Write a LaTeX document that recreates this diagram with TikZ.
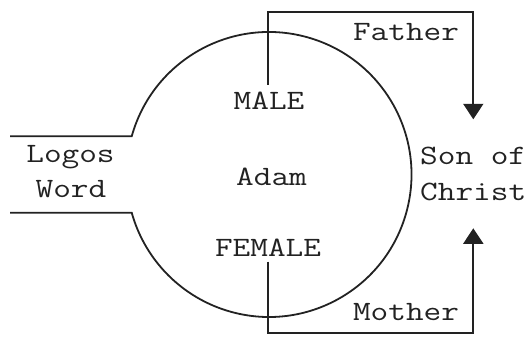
\documentclass[tikz,border=0pt]{standalone}
\usepackage{graphicx}
\usetikzlibrary{arrows.meta}
\definecolor{ink}{HTML}{222222}
\newcommand{\wtt}[1]{\scalebox{1.225}[1]{#1}}
\begin{document}
\begin{tikzpicture}[x=1pt,y=1pt,
  line/.style={line width=1.8pt, draw=ink},
  arr/.style={line, -{Triangle[width=20pt,length=15.5pt]}},
  lbl/.style={font=\fontsize{28}{34}\selectfont\ttfamily, inner sep=0pt, anchor=base, text=ink}]
\useasboundingbox (0,0) rectangle (531,339);
% labels
\node[lbl] (father) at (406,298.3) {\wtt{Father}};
\node[lbl] (male) at (269,229) {\wtt{MALE}};
\node[lbl] (adam) at (271.5,153) {\wtt{Adam}};
\node[lbl] (female) at (268,82.3) {\wtt{FEMALE}};
\node[lbl] (mother) at (406,18.3) {\wtt{Mother}};
\node[lbl] (logos) at (70.5,176) {\wtt{Logos}};
\node[lbl] (word) at (71,141) {\wtt{Word}};
\node[lbl, anchor=base west] (son) at (420,174) {\wtt{Son of}};
\node[lbl, anchor=base west] (christ) at (420,138) {\wtt{Christ}};
% circle with opening
\coordinate (c) at (269,164.5);
\coordinate (wtop) at (10,202.75);
\coordinate (wbot) at (10,126.25);
\draw[line] (wtop) -- ([shift={(164.43:142.5pt)}]c)
  arc[start angle=164.43, end angle=-164.43, radius=142.5pt] -- (wbot);
% connectors
\coordinate (mstart) at (267.7,254);
\coordinate (ftip) at (473.3,219.7);
\coordinate (fstart) at (267.7,77.3);
\coordinate (mtip) at (473.3,110.7);
\draw[arr] (mstart) -- ++(0,72.7) -| (ftip);
\draw[arr] (fstart) -- ++(0,-71.3) -| (mtip);
\end{tikzpicture}
\end{document}
